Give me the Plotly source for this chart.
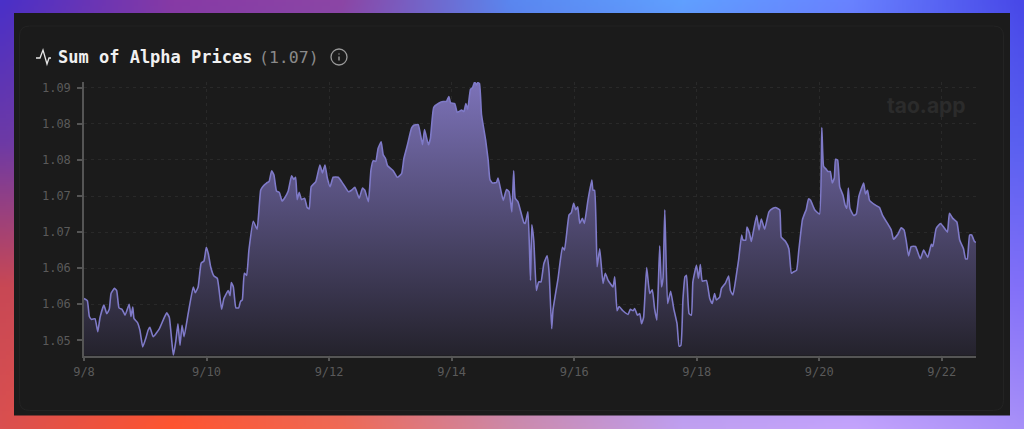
import base64, struct, zlib
from datetime import datetime, timedelta
import plotly.graph_objects as go

W, H = 1024, 429
title_text = "Sum of Alpha Prices"
current_value = "(1.07)"
watermark = "tao.app"
start_date = datetime(2025, 9, 8)

hours = [0,1.3,2.1,3.0,4.3,5.4,6.3,7.8,8.9,9.9,10.6,11.9,12.8,13.7,14.9,16.1,17.7,18.4,19.1,19.6,20.9,21.9,23.0,24.3,25.1,25.8,27.1,29.5,31.0,32.4,33.4,35.0,36.0,36.8,37.6,38.4,39.2,40.8,42.8,43.6,44.7,45.9,47.0,47.9,48.7,49.6,50.9,52.2,53.9,54.8,56.5,57.2,57.7,58.5,59.5,60.6,61.3,62.0,62.8,63.7,64.6,
66.3,67.8,69.2,70.0,71.5,72.5,73.5,74.4,75.4,76.5,77.6,78.7,80.0,81.3,82.2,82.9,83.5,84.3,85.2,86.4,87.4,88.2,89.0,90.8,92.4,93.4,94.4,95.3,96.4,97.6,99.6,100.9,102.2,103.6,104.8,106.1,107.8,109.1,110.0,111.4,
112.4,113.3,114.3,115.2,116.4,117.2,118.1,118.9,121.1,122.7,124.4,125.3,126.7,128.3,129.2,130.9,132.6,133.4,134.9,135.7,137.0,139.1,140.7,142.0,142.9,143.6,145.2,146.2,147.9,148.8,149.6,150.3,151.4,152.2,153.0,153.7,154.2,154.9,155.7,157.3,158.3,159.0,160.0,161.6,162.2,164.2,165.5,166.5,167.6,168.3,168.9,170.0,172.3,172.8,173.9,174.9,175.4,176.2,177.2,178.1,179.0,180.1,181.4,182.2,183.2,183.7,185.7,187.4,188.2,190.0,190.9,191.8,192.6,193.4,194.2,195.2,196.0,197.4,198.9,199.4,200.0,201.0,202.0,203.3,204.2,205.3,207.2,207.9,208.8,209.6,211.1,213.1,214.0,215.1,215.7,216.8,217.7,218.4,219.2,220.4,221.6,222.6,223.5,224.4,225.5,226.2,226.8,227.5,
228.6,229.8,231.0,232.3,233.1,233.8,234.6,235.4,236.0,237.0,237.9,238.5,239.9,240.7,241.4,242.2,243.8,245.1,246.1,247.0,247.7,249.0,249.7,251.2,252.5,253.2,254.2,255.8,256.4,257.6,258.1,259.2,259.7,260.7,261.4,262.3,263.5,264.4,265.3,266.6,268.3,269.9,270.9,272.5,273.1,274.8,276.1,277.1,278.0,279.1,280.0,281.4,282.3,282.9,283.8,284.6,286.2,288.1,289.0,289.7,290.5,291.4,292.3,293.1,293.9,294.4,295.2,296.0,297.3,298.1,298.8,299.4,300.0,301.5,302.5,303.5,304.6,305.4,306.1,306.9,307.7,309.7,311.6,312.7,314.9,316.2,317.1,318.8,320.1,321.2,322.1,323.0,324.0,325.7,327.6,328.9,330.5,331.9,332.5,333.8,335.5,336.7,338.2,339.0,340.3,341.9,343.0,344.5,345.3,346.0,346.9,347.7,348.8,349.4]

prices = [1.0608,1.0605,1.0583,1.0579,1.0580,1.0562,1.0582,1.0599,1.0587,1.0593,1.0615,1.0622,1.0619,1.0595,1.0593,1.0585,1.0600,1.0583,1.0596,1.0580,1.0575,1.0564,1.0541,1.0554,1.0564,1.0568,1.0555,1.0566,1.0578,1.0588,1.0582,1.0529,1.0550,1.0573,1.0543,1.0571,1.0555,1.0587,1.0624,1.0616,1.0624,1.0657,1.0660,1.0679,1.0670,1.0652,1.0639,1.0636,1.0593,1.0608,1.0619,1.0612,1.0630,1.0624,1.0595,1.0595,1.0604,1.0606,1.0643,1.0640,1.0675,
1.0715,1.0704,1.0758,1.0763,1.0768,1.0770,1.0785,1.0779,1.0757,1.0755,1.0743,1.0748,1.0757,1.0778,1.0773,1.0776,1.0745,1.0755,1.0745,1.0747,1.0734,1.0732,1.0763,1.0770,1.0793,1.0782,1.0793,1.0775,1.0763,1.0776,1.0776,1.0770,1.0763,1.0756,1.0758,1.0762,1.0747,1.0761,1.0758,1.0742,
1.0786,1.0799,1.0798,1.0816,1.0825,1.0807,1.0802,1.0792,1.0785,1.0776,1.0781,1.0802,1.0821,1.0844,1.0848,1.0849,1.0821,1.0842,1.0821,1.0830,1.0873,1.0879,1.0881,1.0881,1.0888,1.0879,1.0878,1.0866,1.0869,1.0867,1.0878,1.0870,1.0898,1.0900,1.0908,1.0904,1.0907,1.0906,1.0863,1.0828,1.0800,1.0773,1.0768,1.0769,1.0775,1.0744,1.0759,1.0756,1.0728,1.0785,1.0747,1.0742,1.0713,1.0712,1.0728,1.0633,1.0710,1.0687,1.0619,1.0631,1.0631,1.0656,1.0667,1.0643,1.0566,1.0592,1.0636,1.0679,1.0675,1.0724,1.0727,1.0740,1.0731,1.0735,1.0712,1.0719,1.0712,1.0744,1.0772,1.0758,1.0758,1.0652,1.0677,1.0629,1.0643,1.0633,1.0624,1.0638,1.0591,1.0597,1.0591,1.0586,1.0593,1.0591,1.0594,1.0585,1.0587,1.0573,1.0582,1.0651,1.0615,1.0620,1.0594,1.0578,1.0681,1.0624,1.0636,1.0731,
1.0601,1.0618,1.0594,1.0573,1.0542,1.0543,1.0606,1.0638,1.0640,1.0587,1.0585,1.0631,1.0654,1.0636,1.0655,1.0632,1.0633,1.0608,1.0601,1.0615,1.0606,1.0610,1.0622,1.0629,1.0639,1.0619,1.0613,1.0647,1.0661,1.0696,1.0689,1.0689,1.0707,1.0698,1.0687,1.0703,1.0723,1.0703,1.0718,1.0704,1.0728,1.0733,1.0734,1.0731,1.0693,1.0687,1.0677,1.0643,1.0645,1.0647,1.0675,1.0717,1.0726,1.0731,1.0746,1.0744,1.0731,1.0725,1.0845,1.0791,1.0788,1.0784,1.0784,1.0768,1.0775,1.0801,1.0800,1.0763,1.0751,1.0738,1.0733,1.0761,1.0733,1.0723,1.0725,1.0749,1.0761,1.0768,1.0753,1.0758,1.0744,1.0738,1.0734,1.0724,1.0711,1.0703,1.0690,1.0697,1.0706,1.0703,1.0687,1.0667,1.0680,1.0680,1.0663,1.0675,1.0665,1.0683,1.0680,1.0705,1.0712,1.0707,1.0700,1.0726,1.0719,1.0714,1.0689,1.0677,1.0663,1.0663,1.0696,1.0696,1.0687,1.0686]

y_ticks = [1.09, 1.085, 1.08, 1.075, 1.07, 1.065, 1.06, 1.055]
y_tick_labels = ["1.09", "1.08", "1.08", "1.07", "1.07", "1.06", "1.06", "1.05"]
x_tick_days = [0, 2, 4, 6, 8, 10, 12, 14]
x_tick_labels = ["9/8", "9/10", "9/12", "9/14", "9/16", "9/18", "9/20", "9/22"]

# frame colours: rows top to bottom, columns left to right
frame_grid = [
    [(74,48,200),(135,58,165),(140,70,165),(90,135,240),(96,160,255),(105,130,255),(72,72,232)],
    [(110,58,165),(120,70,170),(120,90,200),(110,110,230),(110,110,240),(100,105,245),(90,96,240)],
    [(200,72,85),(210,80,90),(190,100,130),(170,120,200),(160,130,240),(145,120,248),(130,112,248)],
    [(218,80,80),(255,85,48),(240,106,85),(205,138,170),(192,160,240),(196,164,252),(168,144,248)],
]

def png_uri(grid, w=256, h=107):
    rows = []
    nr, nc = len(grid), len(grid[0])
    for j in range(h):
        fy = j/(h-1)*(nr-1); r0 = min(int(fy), nr-2); ty = fy-r0
        row = bytearray([0])
        for i in range(w):
            fx = i/(w-1)*(nc-1); c0 = min(int(fx), nc-2); tx = fx-c0
            for k in range(3):
                a = grid[r0][c0][k]*(1-tx)+grid[r0][c0+1][k]*tx
                b = grid[r0+1][c0][k]*(1-tx)+grid[r0+1][c0+1][k]*tx
                row.append(int(a*(1-ty)+b*ty))
        rows.append(bytes(row))
    def chunk(t, d):
        c = struct.pack(">I", len(d))+t+d
        return c+struct.pack(">I", zlib.crc32(t+d) & 0xffffffff)
    data = b"\x89PNG\r\n\x1a\n"+chunk(b"IHDR", struct.pack(">IIBBBBB", w, h, 8, 2, 0, 0, 0))+chunk(b"IDAT", zlib.compress(b"".join(rows)))+chunk(b"IEND", b"")
    return "data:image/png;base64,"+base64.b64encode(data).decode()

def px(x): return x/W
def py(y): return 1-y/H

x_dates = [start_date+timedelta(hours=h) for h in hours]
tick_dates = [start_date+timedelta(days=d) for d in x_tick_days]
GRID = "#292929"
AXIS = "#555555"
MONO = "DejaVu Sans Mono"

fig = go.Figure()
fig.add_trace(go.Scatter(
    x=x_dates, y=prices, mode="lines", line=dict(color="#7f7ac8", width=1.6, shape="spline", smoothing=0.4),
    fill="tozeroy",
    fillgradient=dict(type="vertical", start=1.0529, stop=1.0908,
                      colorscale=[[0, "rgb(36,34,44)"], [1, "rgb(124,114,184)"]]),
    hoverinfo="skip", showlegend=False))

fig.update_layout(
    width=W, height=H, margin=dict(l=0, r=0, t=0, b=0), autosize=False,
    paper_bgcolor="#1b1b1b", plot_bgcolor="rgba(0,0,0,0)",
    xaxis=dict(domain=[px(84), px(976)], type="date", automargin=False,
               range=[start_date, start_date+timedelta(hours=349.4)],
               tickvals=tick_dates, ticktext=x_tick_labels, ticks="outside", ticklen=4, tickcolor=AXIS,
               tickwidth=1.5, showline=True, linecolor=AXIS, linewidth=1.5, showgrid=True, gridcolor=GRID,
               griddash="3px,4px", gridwidth=1, zeroline=False,
               tickfont=dict(family=MONO, size=12, color="#5a5a5a")),
    yaxis=dict(domain=[py(355.5), py(82)], range=[1.0529, 1.0908], automargin=False,
               tickvals=y_ticks, ticktext=y_tick_labels, ticks="outside", ticklen=5, tickcolor=AXIS,
               ticklabelstandoff=4,
               tickwidth=1.5, showline=True, linecolor=AXIS, linewidth=1.5, showgrid=True, gridcolor=GRID,
               griddash="3px,4px", gridwidth=1, zeroline=False,
               tickfont=dict(family=MONO, size=12, color="#5a5a5a")),
    images=[dict(source=png_uri(frame_grid), xref="paper", yref="paper", x=0, y=1, sizex=1, sizey=1,
                 sizing="stretch", xanchor="left", yanchor="top", layer="below")],
)

def path_px(points):
    return "M"+" L".join(f"{px(x)},{py(y)}" for x, y in points)

def round_rect(x0, y0, x1, y1, r):
    return (f"M{px(x0+r)},{py(y0)} L{px(x1-r)},{py(y0)} Q{px(x1)},{py(y0)} {px(x1)},{py(y0+r)} "
            f"L{px(x1)},{py(y1-r)} Q{px(x1)},{py(y1)} {px(x1-r)},{py(y1)} "
            f"L{px(x0+r)},{py(y1)} Q{px(x0)},{py(y1)} {px(x0)},{py(y1-r)} "
            f"L{px(x0)},{py(y0+r)} Q{px(x0)},{py(y0)} {px(x0+r)},{py(y0)} Z")

shapes = [
    dict(type="rect", xref="paper", yref="paper", x0=px(14), x1=px(1010), y0=py(415.5), y1=py(13),
         fillcolor="#1b1b1b", line=dict(width=0), layer="below"),
    dict(type="path", xref="paper", yref="paper", path=round_rect(19.5, 26, 1003.5, 410.5, 10),
         fillcolor="rgba(0,0,0,0)", line=dict(color="#232323", width=1), layer="below"),
    dict(type="path", xref="paper", yref="paper",
         path=path_px([(36,58),(40,58),(43,50),(47,64),(49,58),(51,58)]),
         line=dict(color="#e6e6e6", width=1.3)),
    dict(type="circle", xref="paper", yref="paper", x0=px(331), x1=px(347), y0=py(65), y1=py(49),
         line=dict(color="#9a9a9a", width=1.3)),
    dict(type="line", xref="paper", yref="paper", x0=px(339), x1=px(339), y0=py(60.5), y1=py(56.5),
         line=dict(color="#9a9a9a", width=1.4)),
    dict(type="line", xref="paper", yref="paper", x0=px(339), x1=px(339), y0=py(54.6), y1=py(53.4),
         line=dict(color="#9a9a9a", width=1.4)),
]
fig.update_layout(shapes=shapes)

fig.add_annotation(text=f"<b>{title_text}</b>", xref="paper", yref="paper", x=px(56), y=py(57),
                   xanchor="left", yanchor="middle", showarrow=False,
                   font=dict(family=MONO, size=17, color="#f0f0f0"))
fig.add_annotation(text=current_value, xref="paper", yref="paper", x=px(257), y=py(57),
                   xanchor="left", yanchor="middle", showarrow=False,
                   font=dict(family=MONO, size=16.5, color="#8a8a8a"))
fig.add_annotation(text=f"<b>{watermark}</b>", xref="paper", yref="paper", x=px(968), y=py(105),
                   xanchor="right", yanchor="middle", showarrow=False,
                   font=dict(family="Inter", size=21, color="#2b2b2b"))

fig.write_html("out.html", config={"displayModeBar": False},
               post_script="document.body.style.margin='0';document.documentElement.style.overflow='hidden';")
